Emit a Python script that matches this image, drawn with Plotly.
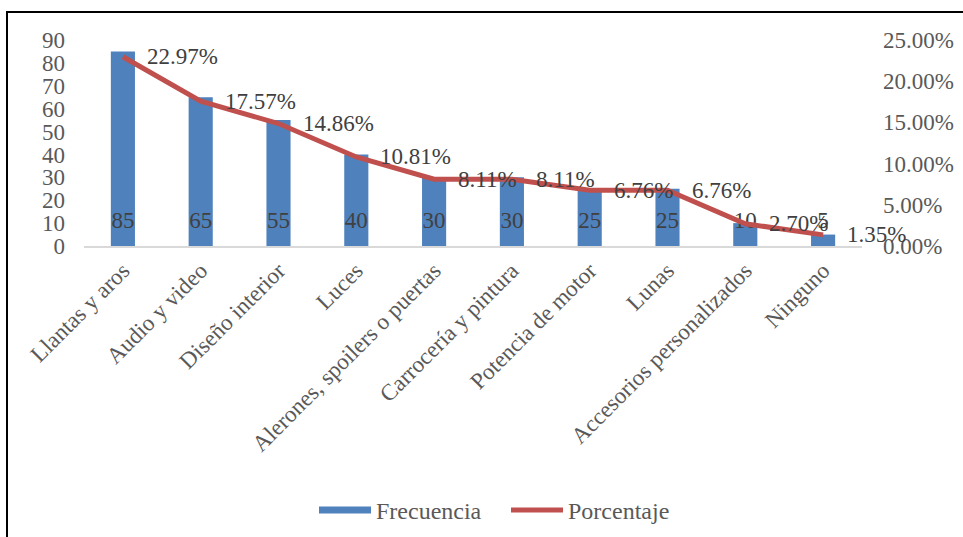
import plotly.graph_objects as go

categories = ["Llantas y aros", "Audio y video", "Diseño interior", "Luces",
              "Alerones, spoilers o puertas", "Carrocería y pintura",
              "Potencia de motor", "Lunas", "Accesorios personalizados", "Ninguno"]
frecuencia = [85, 65, 55, 40, 30, 30, 25, 25, 10, 5]
porcentaje = [22.97, 17.57, 14.86, 10.81, 8.11, 8.11, 6.76, 6.76, 2.70, 1.35]
left_ticks = list(range(0, 91, 10))
right_ticks = [0, 5, 10, 15, 20, 25]

FONT = "Times New Roman, Liberation Serif, serif"
BLUE = "#4F81BD"
RED = "#C0504D"
GRAY = "#595959"
DARK = "#404040"

W, H = 963, 537
ML, MR, MT, MB = 84, 101, 40, 291
pw, ph = W - ML - MR, H - MT - MB

fig = go.Figure()
fig.add_trace(go.Bar(x=categories, y=frecuencia, marker_color=BLUE, showlegend=False,
                     yaxis="y", hoverinfo="y"))
fig.add_trace(go.Scatter(x=categories, y=[10.5] * len(frecuencia), mode="text",
                         text=[str(v) for v in frecuencia], textposition="middle center",
                         textfont=dict(family=FONT, size=23, color=DARK),
                         showlegend=False, hoverinfo="skip", yaxis="y"))
fig.add_trace(go.Scatter(x=categories, y=porcentaje, mode="lines", yaxis="y2",
                         line=dict(color=RED, width=5), name="Porcentaje", showlegend=False))
# legend entries
fig.add_trace(go.Scatter(x=[None], y=[None], mode="lines", line=dict(color=BLUE, width=7),
                         name="Frecuencia"))
fig.add_trace(go.Scatter(x=[None], y=[None], mode="lines", line=dict(color=RED, width=5),
                         name="Porcentaje", yaxis="y2"))

annotations = []
for c, p in zip(categories, porcentaje):
    annotations.append(dict(x=c, y=p, xref="x", yref="y2", text=f"{p:.2f}%",
                            showarrow=False, xanchor="left", yanchor="middle", xshift=22,
                            font=dict(family=FONT, size=23, color=DARK)))

def px_x(p):
    return (p - ML) / pw

def px_y(p):
    return (H - MB - p) / ph

shapes = [dict(type="rect", xref="paper", yref="paper",
               x0=px_x(7), x1=px_x(975), y0=px_y(550), y1=px_y(12),
               line=dict(color="#000000", width=2), fillcolor="rgba(0,0,0,0)", layer="below")]

fig.update_layout(
    template="none",
    width=W, height=H,
    margin=dict(l=ML, r=MR, t=MT, b=MB, autoexpand=False),
    paper_bgcolor="white", plot_bgcolor="white",
    font=dict(family=FONT, size=23, color=GRAY),
    bargap=0.69,
    xaxis=dict(tickangle=-45, showline=True, linecolor="#D9D9D9", linewidth=2,
               range=[-0.5, len(categories) - 0.5],
               ticks="", showgrid=False, automargin=False, zeroline=False,
               tickfont=dict(family=FONT, size=23, color=GRAY)),
    yaxis=dict(range=[0, 90], tickvals=left_ticks, showgrid=False, zeroline=False,
               showline=False, ticks="", ticklabelstandoff=18, automargin=False,
               tickfont=dict(family=FONT, size=23, color=GRAY)),
    yaxis2=dict(range=[0, 25], tickvals=right_ticks, overlaying="y", side="right",
                ticktext=[f"{v:.2f}%" for v in right_ticks], tickmode="array",
                showgrid=False, zeroline=False, showline=False, ticks="", automargin=False,
                ticklabelstandoff=20, tickfont=dict(family=FONT, size=23, color=GRAY)),
    legend=dict(orientation="h", x=px_x(506), xanchor="center", y=px_y(488), yanchor="top",
                font=dict(family=FONT, size=24, color=GRAY), itemwidth=52,
                entrywidth=125, entrywidthmode="pixels",
                bgcolor="rgba(0,0,0,0)"),
    annotations=annotations,
    shapes=shapes,
)

fig.write_html("out.html")
